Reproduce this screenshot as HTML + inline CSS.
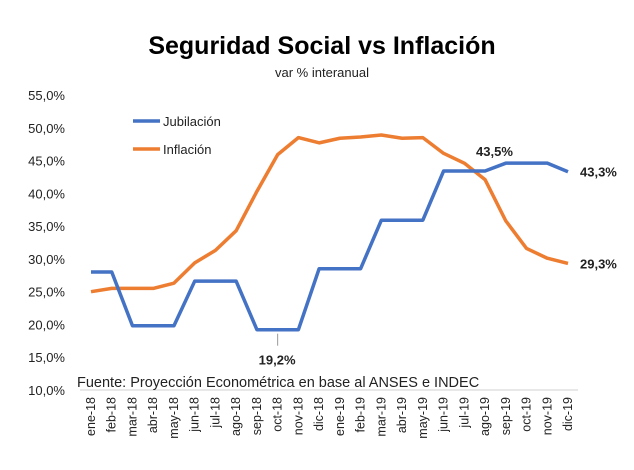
<!DOCTYPE html>
<html><head><meta charset="utf-8"><style>
body{margin:0;background:#fff}
svg text{font-family:"Liberation Sans",Arial,sans-serif}
</style></head><body>
<svg width="634" height="465" id="c">
<text x="322" y="54" text-anchor="middle" font-size="25" font-weight="bold" fill="#000">Seguridad Social vs Inflación</text>
<text x="322" y="77" text-anchor="middle" font-size="13" fill="#222">var % interanual</text>
<g id="yaxis"></g>
<g id="xaxis"></g>
<g id="series"></g>
<line x1="133" y1="121" x2="160" y2="121" stroke="#4472C4" stroke-width="3.5"/>
<text x="163" y="126" font-size="13" fill="#222">Jubilación</text>
<line x1="133" y1="149" x2="160" y2="149" stroke="#ED7D31" stroke-width="3.5"/>
<text x="163" y="154" font-size="13" fill="#222">Inflación</text>
<text x="77" y="387" font-size="14.5" fill="#222">Fuente: Proyección Econométrica en base al ANSES e INDEC</text>
</svg>
<script>
const categories=["ene-18","feb-18","mar-18","abr-18","may-18","jun-18","jul-18","ago-18","sep-18","oct-18","nov-18","dic-18","ene-19","feb-19","mar-19","abr-19","may-19","jun-19","jul-19","ago-19","sep-19","oct-19","nov-19","dic-19"];
const jubilacion=[28,28,19.8,19.8,19.8,26.6,26.6,26.6,19.2,19.2,19.2,28.5,28.5,28.5,35.9,35.9,35.9,43.4,43.4,43.4,44.6,44.6,44.6,43.3];
const inflacion=[25,25.5,25.5,25.5,26.3,29.4,31.3,34.3,40.3,45.9,48.5,47.7,48.4,48.6,48.9,48.4,48.5,46.1,44.6,42.1,35.8,31.6,30.1,29.3];
const yTicks=[10,15,20,25,30,35,40,45,50,55];
const ns="http://www.w3.org/2000/svg";
const X=i=>91+i*(568-91)/23;
const Y=v=>390-(v-10)*(390-95)/45;
function mk(tag,attrs,parent){const e=document.createElementNS(ns,tag);for(const k in attrs)e.setAttribute(k,attrs[k]);parent.appendChild(e);return e;}
const ya=document.getElementById('yaxis'),xa=document.getElementById('xaxis'),se=document.getElementById('series');
yTicks.forEach(t=>{const e=mk('text',{x:65,y:Y(t)+5,'text-anchor':'end','font-size':13,fill:'#222'},ya);e.textContent=t.toFixed(1).replace('.',',')+'%';

});
const ax=mk('line',{x1:80,y1:Y(10),x2:578,y2:Y(10),stroke:'#d0d0d0','stroke-width':1},xa);


categories.forEach((c,i)=>{const e=mk('text',{x:0,y:0,'text-anchor':'end','font-size':12.5,fill:'#222',transform:`translate(${X(i)+4},397) rotate(-90)`},xa);e.textContent=c;

});
function line(data,color,name){const p=mk('polyline',{points:data.map((v,i)=>X(i)+','+Y(v)).join(' '),fill:'none',stroke:color,'stroke-width':3.5,'stroke-linejoin':'round'},se);

}
line(inflacion,'#ED7D31','inflacion-line');
line(jubilacion,'#4472C4','jubilacion-line');
function lab(txt,x,y,name){const e=mk('text',{x:x,y:y,'font-size':13,'font-weight':'bold',fill:'#222'},se);e.textContent=txt;

}
const lead=mk('line',{x1:X(9),y1:Y(19.2)+4,x2:X(9),y2:Y(19.2)+16,stroke:'#999'},se);


lab('19,2%',X(9)-19,Y(19.2)+35,'label-min-jubilacion');
lab('43,5%',X(19)-9,Y(44.6)-7,'label-43-5');
lab('43,3%',X(23)+12,Y(43.3)+5,'label-end-jubilacion');
lab('29,3%',X(23)+12,Y(29.3)+5,'label-end-inflacion');
</script>
</body></html>
